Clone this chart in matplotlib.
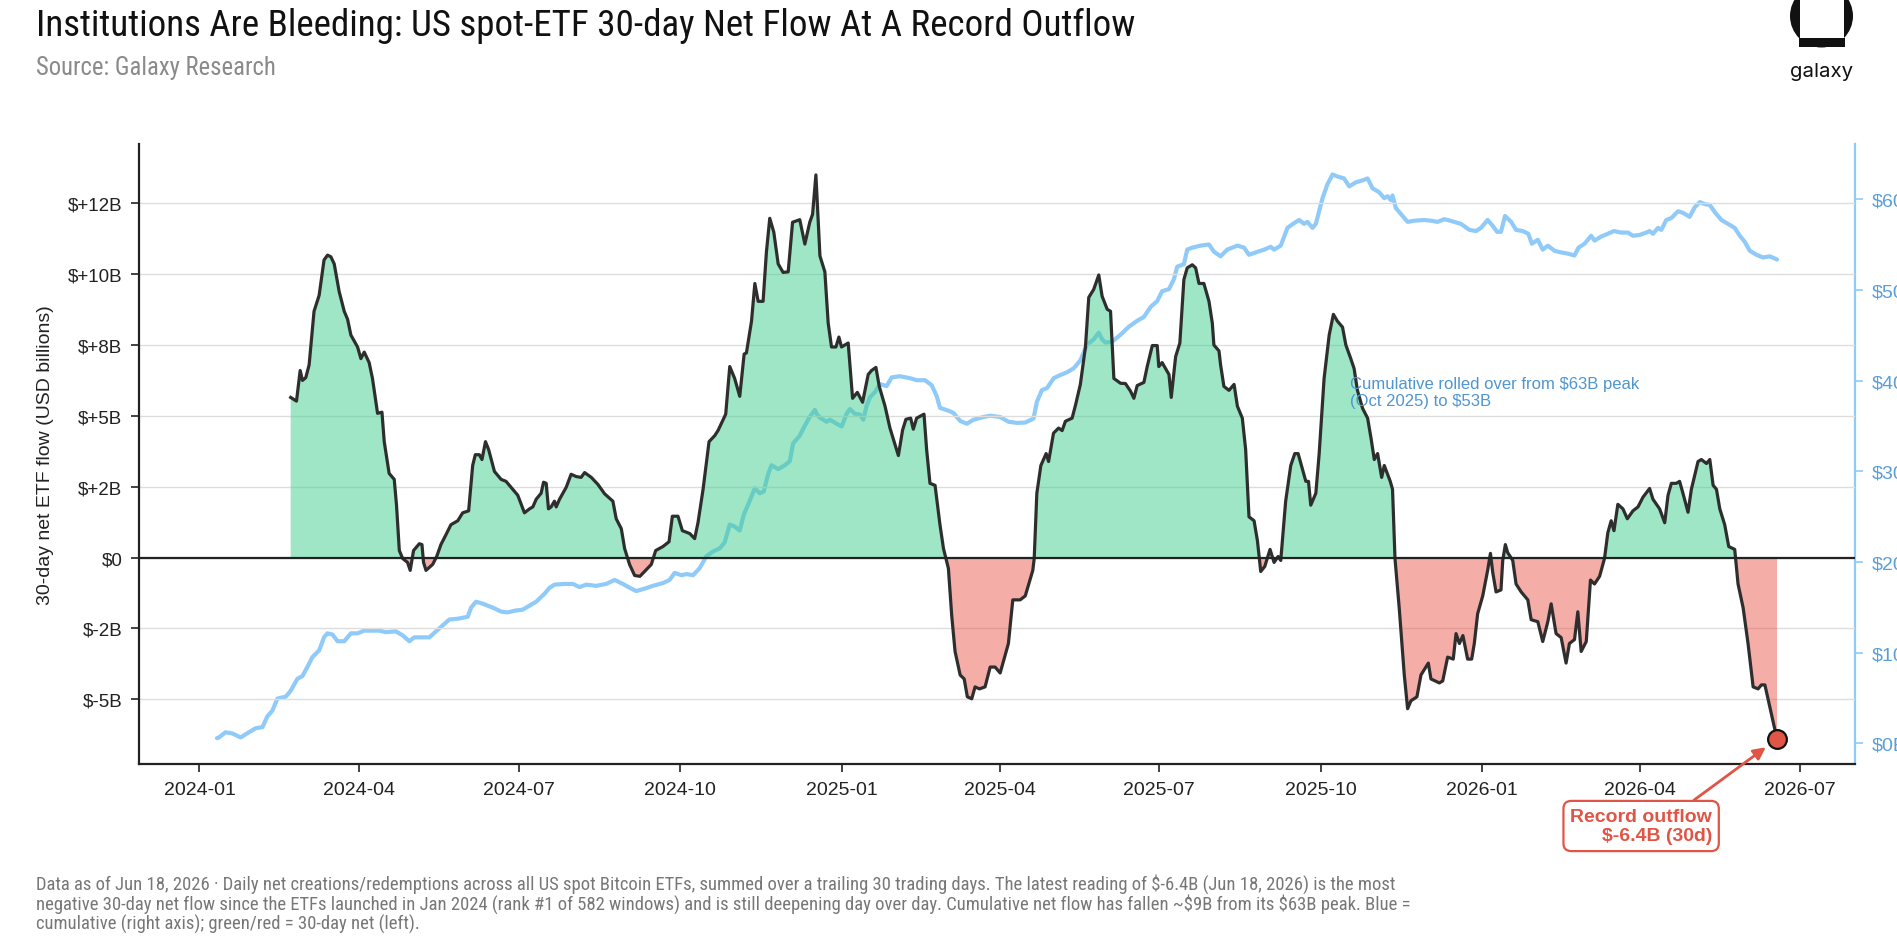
import numpy as np
import pandas as pd
import matplotlib
matplotlib.use("Agg")
import matplotlib.pyplot as plt
import matplotlib.dates as mdates
from matplotlib import font_manager as fm
from matplotlib.patches import Circle, Rectangle
from matplotlib.ticker import FixedLocator, FuncFormatter

plt.rcParams['text.parse_math'] = False

# ---------------- data ----------------
BASE_DATE = "2024-01-01"

# 30-day net flow, USD billions (x = days since BASE_DATE)
flow_day = [52.0, 55.3, 57.4, 58.7, 60.6, 62.5, 65.3, 68.2, 71.0, 73.0, 74.9, 76.8, 79.6, 82.5, 84.4,
            86.3, 90.1, 92.0, 93.9, 96.7, 98.6, 101.5, 104.0, 105.3, 108.1, 111.0, 112.3, 113.9, 115.8,
            118.6, 120.1, 122.0, 125.3, 126.8, 127.7, 129.1, 132.9, 135.2, 137.6, 140.5, 143.3, 147.2,
            150.0, 153.4, 155.7, 157.2, 159.5, 161.0, 163.0, 164.8, 168.1, 171.9, 174.7, 177.6, 181.4,
            185.2, 188.1, 190.0, 191.9, 194.7, 196.1, 197.6, 198.9, 200.4, 202.3, 203.3, 205.2, 209.0,
            211.8, 214.7, 217.5, 219.5, 223.3, 227.1, 230.9, 235.6, 237.5, 240.4, 242.3, 245.1, 248.0,
            251.0, 257.5, 260.0, 264.1, 267.6, 269.5, 272.7, 275.2, 279.4, 282.2, 284.1, 287.0, 290.4,
            293.6, 295.5, 299.9, 302.2, 305.0, 307.9, 310.4, 311.7, 314.6, 316.5, 318.4, 321.2, 323.1,
            325.0, 327.3, 329.8, 332.6, 335.5, 338.0, 342.1, 345.0, 347.8, 349.4, 351.3, 353.6, 356.4,
            358.3, 360.2, 362.7, 364.4, 365.9, 369.7, 372.2, 374.9, 377.9, 381.1, 383.0, 385.5, 387.4,
            390.7, 393.5, 398.3, 400.7, 402.6, 405.3, 406.8, 408.7, 412.9, 414.4, 416.3, 419.2, 422.0,
            424.0, 426.8, 428.7, 430.6, 433.5, 435.8, 437.6, 440.1, 442.0, 444.5, 447.7, 450.6, 453.4,
            456.3, 461.0, 463.5, 467.7, 470.6, 474.9, 475.7, 477.2, 479.5, 482.5, 483.9, 486.7, 489.6,
            491.6, 493.5, 497.3, 499.2, 502.0, 504.9, 506.8, 509.6, 512.5, 514.4, 517.3, 519.2, 521.1,
            524.9, 527.7, 530.6, 532.5, 534.4, 538.2, 540.1, 543.0, 545.8, 546.7, 548.6, 552.5, 553.8,
            556.3, 558.7, 561.0, 562.9, 565.8, 567.7, 569.6, 572.4, 575.3, 577.2, 578.1, 581.0, 581.9,
            583.8, 586.7, 589.6, 591.5, 594.3, 596.2, 598.1, 601.0, 602.9, 604.8, 607.1, 610.1, 612.4,
            614.7, 616.2, 619.0, 621.9, 624.2, 626.1, 628.6, 630.5, 632.0, 633.3, 636.2, 638.1, 640.9,
            643.8, 646.2, 648.5, 651.4, 653.3, 656.1, 658.0, 659.9, 662.8, 665.7, 667.6, 669.5, 671.4,
            673.7, 675.2, 678.6, 679.9, 681.3, 683.7, 686.6, 688.5, 690.4, 693.8, 696.1, 700.3, 701.8,
            706.6, 708.5, 711.3, 714.5, 716.1, 718.0, 720.0, 722.7, 725.0, 726.5, 728.4, 731.3, 734.1,
            735.7, 737.0, 738.9, 741.7, 742.7, 744.2, 745.5, 748.4, 750.3, 753.2, 757.0, 758.9, 762.7,
            765.5, 768.4, 770.3, 773.1, 776.0, 778.8, 780.7, 783.6, 785.5, 787.4, 790.3, 792.7, 795.0,
            797.9, 800.7, 802.6, 804.5, 806.1, 808.3, 811.2, 813.7, 816.9, 819.8, 822.6, 826.4, 828.3,
            832.1, 835.0, 836.9, 838.8, 841.6, 843.5, 845.4, 848.3, 850.2, 854.0, 855.9, 858.8, 860.7,
            862.6, 864.5, 866.4, 869.2, 871.5, 874.9, 876.8, 879.7, 882.5, 885.4, 888.2, 890.1, 892.1,
            894.9, 899.0]
flow_val = [5.65, 5.52, 6.60, 6.25, 6.35, 6.80, 8.69, 9.25, 10.50, 10.67, 10.61, 10.36, 9.39, 8.69, 8.41,
            7.85, 7.43, 7.02, 7.25, 6.88, 6.32, 5.09, 5.13, 4.09, 2.97, 2.76, 1.85, 0.25, -0.03,
            -0.17, -0.45, 0.25, 0.49, 0.46, -0.17, -0.45, -0.24, 0.04, 0.46, 0.81, 1.16, 1.30,
            1.58, 1.65, 3.25, 3.63, 3.63, 3.46, 4.09, 3.81, 3.04, 2.76, 2.69, 2.48, 2.20,
            1.58, 1.72, 1.79, 2.06, 2.27, 2.66, 2.62, 1.72, 1.79, 1.99, 1.79, 2.06, 2.48,
            2.94, 2.86, 2.83, 3.00, 2.83, 2.58, 2.25, 1.99, 1.37, 1.02, 0.32, -0.24, -0.63,
            -0.66, -0.24, 0.25, 0.39, 0.56, 1.46, 1.46, 0.95, 0.85, 0.67, 1.23, 2.41, 4.09,
            4.30, 4.48, 5.06, 6.74, 6.32, 5.69, 7.18, 7.22, 8.34, 9.67, 9.04, 9.04, 10.78,
            11.97, 11.48, 10.36, 10.06, 10.08, 11.83, 11.92, 11.06, 11.83, 12.11, 13.50, 10.64, 10.08,
            8.27, 7.43, 7.43, 7.78, 7.43, 7.57, 5.62, 5.83, 5.48, 6.46, 6.60, 6.71, 6.04,
            5.34, 4.57, 3.60, 4.50, 4.88, 4.92, 4.53, 4.92, 5.06, 3.81, 2.62, 2.55, 1.16,
            0.32, -0.38, -2.05, -3.31, -4.14, -4.28, -4.91, -4.98, -4.56, -4.63, -4.56, -3.86, -3.86,
            -4.07, -3.03, -1.49, -1.49, -1.35, -0.45, -0.03, 2.27, 3.25, 3.67, 3.39, 4.39, 4.57,
            4.48, 4.81, 4.92, 5.37, 6.11, 7.43, 9.18, 9.46, 9.97, 9.22, 8.76, 8.69, 6.32,
            6.15, 6.14, 5.87, 5.62, 6.07, 6.18, 6.74, 7.48, 7.48, 6.74, 6.88, 6.46, 5.65,
            7.09, 7.57, 9.81, 10.22, 10.33, 10.22, 9.67, 9.67, 9.04, 8.27, 7.50, 7.29, 6.81,
            6.04, 5.90, 6.11, 5.34, 4.92, 3.81, 1.44, 1.30, 0.60, -0.49, -0.31, 0.29, -0.17,
            0.04, -0.10, 1.99, 3.25, 3.67, 3.67, 3.11, 2.69, 2.69, 1.85, 2.27, 3.67, 6.32,
            7.85, 8.58, 8.34, 8.13, 7.50, 7.02, 6.67, 5.90, 5.27, 4.92, 4.23, 3.46, 3.67,
            2.83, 3.25, 2.69, 2.41, -0.03, -1.77, -4.14, -5.33, -5.05, -4.91, -4.14, -3.72, -4.28,
            -4.42, -4.35, -3.51, -3.58, -2.68, -3.03, -2.75, -3.58, -3.58, -3.03, -1.98, -1.35, -0.45,
            0.15, -0.52, -1.21, -1.14, -0.10, 0.46, 0.18, -0.10, -0.93, -1.21, -1.49, -2.19, -2.26,
            -2.96, -2.26, -1.63, -2.68, -2.82, -3.72, -3.03, -2.89, -1.91, -3.31, -2.96, -0.79, -0.93,
            -0.66, -0.03, 0.88, 1.30, 0.95, 1.88, 1.72, 1.37, 1.65, 1.79, 2.13, 2.44, 2.06,
            1.72, 1.23, 2.20, 2.62, 2.62, 2.69, 2.27, 1.60, 2.41, 3.39, 3.46, 3.32, 3.46,
            2.55, 2.41, 1.72, 1.16, 0.39, 0.29, -0.93, -1.77, -3.03, -4.56, -4.63, -4.49, -4.49,
            -5.26, -6.40]

# Cumulative net flow, USD billions (x = days since BASE_DATE)
cum_day = [10.0, 11.1, 14.9, 18.7, 23.5, 28.2, 32.0, 35.9, 38.7, 41.6, 44.4, 49.2, 52.0, 55.8, 58.7,
           61.5, 64.4, 68.2, 71.0, 72.9, 75.8, 78.7, 82.5, 86.3, 90.1, 93.9, 97.7, 102.4, 106.2,
           111.9, 115.8, 119.6, 122.4, 127.2, 131.0, 134.8, 138.6, 142.4, 147.2, 152.9, 154.8, 157.6,
           161.4, 167.1, 171.9, 175.7, 179.5, 184.3, 188.1, 191.9, 196.6, 199.5, 202.3, 208.0, 212.8,
           216.6, 220.4, 226.1, 231.8, 236.6, 241.3, 246.1, 248.9, 253.7, 258.4, 264.1, 267.9, 270.8,
           274.6, 277.5, 281.3, 285.1, 288.9, 292.7, 296.5, 299.3, 302.2, 305.0, 307.9, 310.2, 313.6,
           316.5, 319.3, 321.6, 324.1, 326.0, 329.8, 333.6, 336.4, 338.3, 342.1, 345.0, 347.5, 350.7,
           351.7, 353.6, 357.4, 359.3, 363.1, 366.0, 368.8, 370.7, 373.5, 376.4, 378.3, 380.2, 382.1,
           385.0, 387.8, 391.6, 394.5, 399.2, 404.9, 408.7, 413.5, 417.3, 420.1, 422.0, 426.8, 429.7,
           433.5, 437.3, 441.1, 446.8, 450.6, 456.3, 461.0, 465.8, 470.6, 475.3, 477.2, 480.1, 483.0,
           486.8, 490.6, 494.4, 498.2, 502.0, 505.8, 509.6, 512.5, 514.4, 516.3, 520.1, 524.9, 529.6,
           534.4, 538.2, 542.0, 545.8, 548.6, 552.5, 555.3, 557.2, 561.0, 562.9, 565.8, 570.5, 575.3,
           578.1, 581.9, 585.7, 591.5, 595.3, 598.1, 601.9, 606.7, 610.5, 612.4, 616.2, 620.0, 623.8,
           626.7, 629.5, 631.4, 634.3, 636.2, 640.0, 642.8, 645.7, 648.5, 652.3, 655.2, 659.0, 662.8,
           665.7, 668.5, 672.3, 675.2, 677.1, 679.0, 679.9, 681.8, 684.7, 688.5, 692.3, 698.0, 701.8,
           705.6, 709.4, 711.3, 715.1, 718.9, 723.7, 727.5, 730.3, 734.1, 737.0, 739.5, 741.7, 744.0,
           747.5, 750.3, 754.1, 757.3, 759.3, 762.7, 765.5, 768.4, 772.2, 776.0, 779.8, 783.6, 785.9,
           789.3, 793.1, 795.0, 798.8, 802.6, 806.1, 810.2, 814.0, 816.9, 820.7, 824.5, 826.4, 828.3,
           831.2, 833.1, 835.9, 838.8, 842.6, 845.4, 849.2, 852.1, 855.0, 857.8, 860.7, 863.5, 867.3,
           871.1, 874.9, 877.8, 880.6, 883.5, 887.3, 891.1, 894.9, 899.0]
cum_val = [0.57, 0.65, 1.22, 1.09, 0.65, 1.22, 1.66, 1.79, 2.97, 3.62, 4.93, 5.15, 5.80, 7.11, 7.42,
           8.42, 9.51, 10.25, 11.69, 12.13, 12.00, 11.26, 11.26, 12.13, 12.13, 12.43, 12.43, 12.43, 12.26,
           12.35, 11.91, 11.26, 11.69, 11.69, 11.69, 12.35, 13.00, 13.66, 13.74, 13.96, 14.97, 15.62,
           15.40, 14.97, 14.53, 14.44, 14.62, 14.75, 15.18, 15.62, 16.49, 17.15, 17.50, 17.58, 17.58,
           17.23, 17.50, 17.37, 17.58, 18.02, 17.58, 17.06, 16.80, 17.06, 17.37, 17.67, 18.02, 18.80,
           18.54, 18.67, 18.54, 19.33, 20.64, 21.16, 21.51, 22.16, 24.13, 23.91, 23.47, 25.22, 26.75,
           28.14, 27.57, 27.79, 29.71, 30.67, 30.24, 30.67, 31.11, 33.07, 33.94, 35.04, 35.91, 36.78,
           36.34, 35.91, 35.47, 35.69, 35.25, 34.95, 36.34, 36.87, 36.34, 36.26, 35.69, 37.22, 38.18,
           38.74, 39.62, 39.40, 40.36, 40.49, 40.27, 40.05, 40.05, 39.49, 38.31, 37.00, 36.69, 36.43,
           35.56, 35.25, 35.69, 35.99, 36.13, 35.99, 35.47, 35.34, 35.38, 35.82, 37.65, 38.96, 39.18,
           40.27, 40.62, 40.92, 41.36, 42.23, 43.98, 44.55, 45.29, 44.55, 44.20, 44.29, 45.07, 45.94,
           46.60, 47.03, 48.12, 48.78, 49.87, 50.09, 51.18, 52.57, 52.84, 54.45, 54.67, 54.89, 55.02,
           54.23, 53.71, 54.45, 54.89, 54.67, 53.88, 54.14, 54.45, 54.76, 54.45, 54.89, 56.85, 57.37,
           57.72, 57.29, 57.51, 56.85, 57.29, 60.12, 61.65, 62.74, 62.52, 62.30, 61.43, 61.87, 62.09,
           62.30, 61.21, 60.78, 60.12, 60.34, 59.90, 60.43, 59.03, 58.38, 57.51, 57.64, 57.72, 57.64,
           57.51, 57.81, 57.72, 57.51, 57.29, 56.63, 56.50, 56.85, 57.72, 57.07, 56.41, 56.41, 58.16,
           57.51, 56.63, 56.50, 56.20, 55.10, 55.54, 54.45, 54.89, 54.32, 54.14, 54.01, 53.80, 54.67,
           55.10, 55.98, 55.45, 55.89, 56.20, 56.50, 56.33, 56.33, 55.98, 56.07, 56.33, 56.50, 56.20,
           56.85, 56.63, 57.72, 57.94, 58.68, 58.51, 58.07, 59.12, 59.69, 59.47, 59.38, 58.60, 57.72,
           57.29, 56.85, 55.98, 55.32, 54.32, 53.88, 53.58, 53.71, 53.36]

left_ticks = [-5.0, -2.5, 0.0, 2.5, 5.0, 7.5, 10.0, 12.5]
right_ticks = [0, 10, 20, 30, 40, 50, 60]

TITLE = "Institutions Are Bleeding: US spot-ETF 30-day Net Flow At A Record Outflow"
SUBTITLE = "Source: Galaxy Research"
YLABEL = "30-day net ETF flow (USD billions)"
CUM_NOTE = "Cumulative rolled over from $63B peak\n(Oct 2025) to $53B"
RECORD_NOTE = "Record outflow\n$-6.4B (30d)"
FOOTER = [
    "Data as of Jun 18, 2026 \u00b7 Daily net creations/redemptions across all US spot Bitcoin ETFs, summed over a trailing 30 trading days. The latest reading of $-6.4B (Jun 18, 2026) is the most",
    "negative 30-day net flow since the ETFs launched in Jan 2024 (rank #1 of 582 windows) and is still deepening day over day. Cumulative net flow has fallen ~$9B from its $63B peak. Blue =",
    "cumulative (right axis); green/red = 30-day net (left).",
]

# ---------------- fonts ----------------
avail = {f.name for f in fm.fontManager.ttflist}
def pick(names):
    for n in names:
        if n in avail:
            return n
    return "DejaVu Sans"

BODY = pick(["Liberation Sans", "Arimo", "DejaVu Sans"])
NARROW = pick(["Liberation Sans Narrow", "Roboto Condensed", "Open Sans Condensed", "Roboto", "Liberation Sans"])
LOGO = pick(["Inter", "Lato", "Roboto", "Liberation Sans"])
plt.rcParams['font.family'] = [BODY, "DejaVu Sans"]

# ---------------- figure ----------------
W, H = 1897, 937
fig = plt.figure(figsize=(W / 100, H / 100), dpi=100)
fig.patch.set_facecolor("white")

L, R, T, B = 139, 1855, 145, 765
ax = fig.add_axes([L / W, (H - B) / H, (R - L) / W, (B - T) / H])
ax2 = ax.twinx()
ax.set_zorder(ax2.get_zorder() + 1)
ax.patch.set_visible(False)

base = pd.Timestamp(BASE_DATE)
fx = base + pd.to_timedelta(np.array(flow_day), unit="D")
cx = base + pd.to_timedelta(np.array(cum_day), unit="D")
fv = np.array(flow_val)
cv = np.array(cum_val)

GREEN = "#3fcf8e"
RED = "#e74c3c"
BLUE_LINE = "#90caf9"
BLUE_TXT = "#5b9fd8"
ANN_RED = "#e05545"

# cumulative (right axis)
ax2.plot(cx, cv, color=BLUE_LINE, lw=3.0, solid_capstyle="round")

# 30-day flow (left axis)
ax.fill_between(fx, fv, 0, where=fv >= 0, interpolate=True, color=GREEN, alpha=0.5, lw=0)
ax.fill_between(fx, fv, 0, where=fv <= 0, interpolate=True, color=RED, alpha=0.45, lw=0)
ax.plot(fx, fv, color="#2e2e2e", lw=2.3)
ax.axhline(0, color="#222222", lw=1.6, zorder=3)

# limits
span = cum_day[-1] - cum_day[0]
x0 = base + pd.Timedelta(days=cum_day[0] - 0.05 * span)
x1 = base + pd.Timedelta(days=cum_day[-1] + 0.05 * span)
ax.set_xlim(x0, x1)
ax.set_ylim(-7.28, 14.59)
ax2.set_ylim(-2.28, 66.1)

# left axis styling
ax.yaxis.set_major_locator(FixedLocator(left_ticks))
ax.yaxis.set_major_formatter(FuncFormatter(lambda v, p: "$0" if abs(v) < 1e-9 else f"${v:+.0f}B"))
ax.yaxis.grid(True, color="#dddddd", lw=1.0)
ax.set_axisbelow(True)
ax.tick_params(axis="y", labelsize=13.5, colors="#222222", length=6, width=1.2, pad=6)
ax.tick_params(axis="x", labelsize=14, colors="#222222", length=6, width=1.2, pad=6)
ax.xaxis.set_major_locator(mdates.MonthLocator(bymonth=[1, 4, 7, 10]))
ax.xaxis.set_major_formatter(mdates.DateFormatter("%Y-%m"))
ax.set_ylabel(YLABEL, fontsize=14, color="#222222", labelpad=10)
for s in ["top", "right"]:
    ax.spines[s].set_visible(False)
for s in ["left", "bottom"]:
    ax.spines[s].set_color("#222222")
    ax.spines[s].set_linewidth(1.6)

# right axis styling
ax2.yaxis.set_major_locator(FixedLocator(right_ticks))
ax2.yaxis.set_major_formatter(FuncFormatter(lambda v, p: f"${v:.0f}B"))
ax2.tick_params(axis="y", labelsize=14, colors=BLUE_TXT, length=6, width=1.2, pad=6)
ax2.tick_params(axis="y", color=BLUE_LINE)
for s in ["top", "left", "bottom"]:
    ax2.spines[s].set_visible(False)
ax2.spines["right"].set_color(BLUE_LINE)
ax2.spines["right"].set_linewidth(1.6)

# record marker & annotation
last_x = fx[-1]
last_v = fv[-1]
ax.plot([last_x], [last_v], marker="o", ms=13.5, mfc=ANN_RED, mec="#111111", mew=1.6, zorder=6, clip_on=False)

def fig_px(x, y):
    return (x / W, (H - y) / H)

ax.annotate(RECORD_NOTE, xy=(last_x, last_v), xycoords="data",
            xytext=fig_px(1712, 827), textcoords="figure fraction",
            ha="right", va="center", multialignment="right",
            fontsize=14, fontweight="bold", color=ANN_RED,
            bbox=dict(boxstyle="round,pad=0.35,rounding_size=0.4", fc="white", ec=ANN_RED, lw=1.6),
            arrowprops=dict(arrowstyle="-|>", color=ANN_RED, lw=2.0, mutation_scale=18,
                            shrinkA=0, shrinkB=10, relpos=(0.8, 1.0)),
            annotation_clip=False, zorder=7)

# cumulative note
fig.text(*fig_px(1350, 377), CUM_NOTE, ha="left", va="top", fontsize=12, color="#4f95d0",
         linespacing=1.2)

# ---------------- header / footer ----------------
renderer = fig.canvas.get_renderer()

def fit_text(x, y, s, width, size, **kw):
    t = fig.text(*fig_px(x, y), s, fontsize=size, **kw)
    w = t.get_window_extent(renderer=renderer).width
    if w > 0:
        t.set_fontsize(size * width / w)
    return t

fit_text(36, 36, TITLE, 1100, 26, ha="left", va="baseline", color="#111111", family=[NARROW, "DejaVu Sans"])
fit_text(36, 75, SUBTITLE, 240, 15, ha="left", va="baseline", color="#8a8a8a", family=[NARROW, "DejaVu Sans"])

ft = fit_text(36, 884, FOOTER[0], 1358, 12, ha="left", va="center", color="#777777", family=[NARROW, "DejaVu Sans"])
fsize = ft.get_fontsize()
fig.text(*fig_px(36, 904), FOOTER[1], ha="left", va="center", color="#777777", fontsize=fsize, family=[NARROW, "DejaVu Sans"])
fig.text(*fig_px(36, 924), FOOTER[2], ha="left", va="center", color="#777777", fontsize=fsize, family=[NARROW, "DejaVu Sans"])

# logo
tr = fig.dpi_scale_trans
def inch(x, y):
    return (x / 100, (H - y) / 100)
fig.patches.append(Circle(inch(1821.5, 17), 0.315, transform=tr, facecolor="#111111", edgecolor="none"))
fig.patches.append(Rectangle(inch(1800, 39), 0.44, 0.5, transform=tr, facecolor="white", edgecolor="none"))
fig.patches.append(Rectangle(inch(1799, 48), 0.46, 0.09, transform=tr, facecolor="#111111", edgecolor="none"))
fit_text(1821.5, 72, "galaxy", 63, 16, ha="center", va="center", color="#111111", family=[LOGO, "DejaVu Sans"])

fig.savefig("out.png", dpi=100, facecolor="white")
